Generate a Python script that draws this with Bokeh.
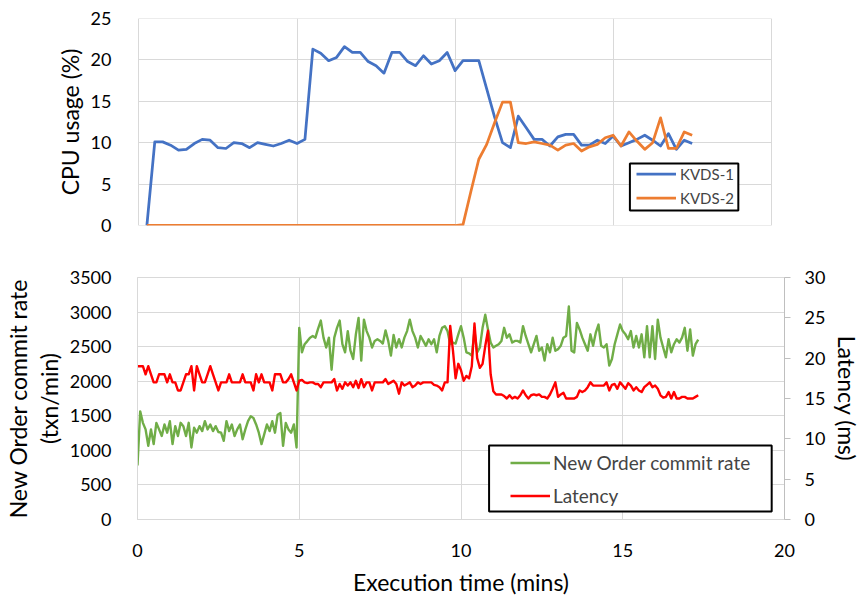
from bokeh.plotting import figure
from bokeh.models import (Range1d, LinearAxis, Legend, LegendItem, FixedTicker,
                          BoxAnnotation, ColumnDataSource)
from bokeh.layouts import column
from bokeh.embed import file_html
from bokeh.resources import INLINE

# ---------------- data ----------------
# Top panel: CPU usage (%), sampled every 0.25 min starting at 0.25 min
cpu_step_min = 0.25
kvds1_cpu = [0, 10.1, 10.1, 9.7, 9.1, 9.2, 9.9, 10.4, 10.3, 9.4,
             9.3, 10.0, 9.9, 9.4, 10.0, 9.8, 9.6, 9.9, 10.3, 9.9,
             10.4, 21.3, 20.8, 19.9, 20.3, 21.6, 20.9, 20.9, 19.8, 19.3,
             18.4, 20.9, 20.9, 19.8, 19.3, 20.5, 19.5, 19.9, 20.9, 18.7,
             19.9, 19.9, 19.9, 16.5, 13.1, 10.0, 9.4, 13.2, 11.8, 10.4,
             10.4, 9.6, 10.7, 11.0, 11.0, 9.7, 9.7, 10.3, 9.9, 10.8,
             9.6, 10.0, 10.4, 10.9, 10.3, 9.6, 11.1, 9.2, 10.3, 9.9]
kvds2_cpu = [0] * 40 + [0.1, 4.1, 8.0, 9.8, 12.4, 14.9, 14.9, 10.0, 9.9, 10.1,
                        9.9, 9.7, 9.1, 9.7, 9.9, 9.0, 9.5, 9.8, 10.6, 10.9,
                        9.6, 11.3, 10.2, 9.2, 10.0, 13.0, 9.3, 9.3, 11.3, 10.9]
cpu_series = ["KVDS-1", "KVDS-2"]

# Bottom panel: sampled every 5 s starting at 0 min
rate_step_min = 5 / 60
commit_rate = [782, 1564, 1398, 1303, 1066, 1303, 1090, 1398, 1303, 1208,
               1374, 1256, 1422, 1090, 1350, 1208, 1398, 1350, 1208, 1398,
               1042, 1327, 1256, 1350, 1279, 1422, 1303, 1374, 1279, 1350,
               1265, 1256, 1137, 1422, 1279, 1374, 1208, 1303, 1374, 1161,
               1303, 1422, 1493, 1469, 1374, 1256, 1090, 1232, 1374, 1279,
               1422, 1256, 1516, 1540, 1066, 1398, 1303, 1256, 1374, 1042,
               2772, 2417, 2535, 2580, 2630, 2654, 2630, 2760, 2877, 2630,
               2488, 2630, 2166, 2630, 2772, 2877, 2535, 2417, 2725, 2441,
               2322, 2678, 2915, 2298, 2891, 2725, 2630, 2488, 2583, 2607,
               2583, 2545, 2735, 2583, 2370, 2668, 2488, 2607, 2488, 2630,
               2725, 2891, 2725, 2630, 2488, 2654, 2583, 2512, 2607, 2535,
               2607, 2417, 2654, 2772, 2796, 2725, 2535, 2559, 2545, 2678,
               2796, 2630, 2417, 2403, 2370, 2725, 2417, 2488, 2772, 2962,
               2749, 2559, 2488, 2512, 2535, 2583, 2772, 2630, 2678, 2559,
               2583, 2583, 2559, 2796, 2654, 2535, 2417, 2535, 2654, 2441,
               2488, 2298, 2535, 2417, 2630, 2441, 2464, 2512, 2630, 2654,
               3080, 2441, 2417, 2844, 2749, 2630, 2535, 2441, 2678, 2512,
               2701, 2820, 2512, 2488, 2535, 2227, 2322, 2535, 2678, 2820,
               2725, 2678, 2607, 2725, 2488, 2654, 2488, 2678, 2346, 2796,
               2346, 2796, 2322, 2891, 2630, 2488, 2346, 2607, 2417, 2535,
               2607, 2559, 2630, 2772, 2441, 2749, 2370, 2535, 2600]
latency_ms = [19, 19, 19, 18, 19, 18, 17, 17, 18, 18,
              18, 17, 18, 17, 17, 16, 16, 17, 18, 18,
              19, 16, 19, 18, 17, 17, 18, 19, 18, 17,
              16, 17, 17, 17, 18, 17, 17, 17, 17, 18,
              17, 17, 17, 16, 18, 17, 18, 17, 17, 17,
              16, 18, 18, 18,
              17, 17, 17.4, 18, 17, 16, 17.2, 17.3, 17, 16.9,
              17, 17, 16.8, 16.8, 16.4, 17, 17, 17, 17, 17.4,
              16, 16.8, 16.2, 17, 16.6, 17, 16.4, 17.2, 16.3, 17.4,
              16.4, 17, 17, 16, 17, 17, 17, 17, 17.4, 16.8,
              17, 17.2, 16.8, 15.6, 17, 16.6, 16.8, 17, 16.4, 16.6,
              17, 16.8, 17,
              17, 17, 17, 16.7, 16.6, 16.4, 16.0, 17, 17, 24,
              21, 17.5, 19.3, 18.5, 17.2, 17.8, 17.5, 19, 24.3, 20,
              18.8, 19.3, 21.5, 23.4, 18, 15.9, 15.5, 15.5, 15.5, 15.3,
              15, 15.4, 15, 15.2, 15, 15.4, 16, 15.4, 15, 15.4,
              15.5, 15.4, 15.5, 15.2, 15.2, 15, 15.5, 16.2, 17, 15.2,
              15.5, 15.7, 15, 15,
              15, 15, 15.2, 16, 15.8, 16, 16.4, 17, 16.6, 16.6,
              16.6, 16.6, 16.6, 17, 16, 16.7, 16.8, 16.2, 17, 16.6,
              16.2, 16.9, 16.6, 16, 16.4, 16, 15.8, 16.4, 16.7, 17,
              16.4, 16.6, 16.2, 15.4, 15.1, 15.2, 15.8, 15, 15.8, 15,
              15, 15.2, 15.2, 15, 15, 15, 15.2, 15.4]
bottom_series = ["New Order commit rate", "Latency"]

x_ticks = [0, 5, 10, 15, 20]
cpu_ticks = [0, 5, 10, 15, 20, 25]
rate_ticks = [0, 500, 1000, 1500, 2000, 2500, 3000, 3500]
lat_ticks = [0, 5, 10, 15, 20, 25, 30]

# ---------------- style ----------------
FONT = "Lato"
GRID = "#D9D9D9"
BLUE, ORANGE, GREEN, RED = "#4472C4", "#ED7D31", "#70AD47", "#FF0000"
TICK_PX, TITLE_PX = 18, 23

cpu_t = [cpu_step_min * (i + 1) for i in range(len(kvds1_cpu))]
rate_t = [rate_step_min * i for i in range(len(commit_rate))]
lat_t = [rate_step_min * i for i in range(len(latency_ms))]


def style_axis(ax, standoff, title_standoff):
    ax.major_label_text_font = FONT
    ax.major_label_text_font_size = f"{TICK_PX}px"
    ax.major_label_text_color = "#000000"
    ax.axis_label_text_font = FONT
    ax.axis_label_text_font_size = f"{TITLE_PX}px"
    ax.axis_label_text_font_style = "normal"
    ax.axis_label_text_color = "#000000"
    ax.major_tick_line_color = None
    ax.minor_tick_line_color = None
    ax.major_label_standoff = standoff
    ax.axis_label_standoff = title_standoff
    ax.axis_line_color = GRID


def legend_frame(left, right, bottom, top):
    return BoxAnnotation(left=left, right=right, bottom=bottom, top=top,
                         fill_color="white", fill_alpha=1.0,
                         line_color="black", line_alpha=1.0, line_width=2,
                         line_dash="solid")


# ---------------- top figure ----------------
# frame spans the same pixels as the lower chart; the x range is widened so the
# 0..20 grid of this chart lands where it is in the reference
p1 = figure(width=864, height=250,
            x_range=Range1d(-0.0467, 20.4206), y_range=Range1d(-0.0001, 25.0001),
            output_backend="svg", toolbar_location=None,
            min_border_left=132, min_border_right=75, min_border_top=18, min_border_bottom=25)
p1.outline_line_color = None
p1.xaxis.visible = False
p1.xgrid.ticker = FixedTicker(ticks=x_ticks)
p1.yaxis.ticker = FixedTicker(ticks=cpu_ticks)
p1.ygrid.ticker = FixedTicker(ticks=cpu_ticks)
p1.xgrid.grid_line_color = GRID
p1.ygrid.grid_line_color = GRID
p1.yaxis.axis_label = "CPU usage (%)"
style_axis(p1.yaxis[0], 20, 4)
p1.yaxis[0].axis_line_color = None
try:
    p1.ygrid.cross_bounds = (0, 20)
except Exception:
    p1.add_layout(BoxAnnotation(left=20.012, fill_color="white", fill_alpha=1.0,
                                line_color=None, level="underlay"))

src1 = ColumnDataSource(dict(t=cpu_t, a=kvds1_cpu, b=kvds2_cpu))
r_blue = p1.line("t", "a", source=src1, line_color=BLUE, line_width=2.75, line_join="round")
r_orange = p1.line("t", "b", source=src1, line_color=ORANGE, line_width=2.75, line_join="round")

p1.add_layout(legend_frame(15.53, 18.96, 1.81, 7.49))
leg1 = Legend(items=[LegendItem(label=cpu_series[0], renderers=[r_blue]),
                     LegendItem(label=cpu_series[1], renderers=[r_orange])],
              location=(499, 17), padding=0, spacing=3,
              glyph_width=40, glyph_height=21, label_height=21, label_standoff=4,
              label_text_font=FONT, label_text_font_size="15px",
              border_line_color=None, background_fill_alpha=0)
p1.add_layout(leg1, "center")

# ---------------- bottom figure ----------------
p2 = figure(width=864, height=348, x_range=Range1d(0, 20), y_range=Range1d(0, 3500),
            output_backend="svg", toolbar_location=None,
            min_border_left=132, min_border_right=75, min_border_top=27, min_border_bottom=76)
p2.outline_line_color = GRID
p2.extra_y_ranges = {"lat": Range1d(0, 30)}
p2.xaxis.ticker = FixedTicker(ticks=x_ticks)
p2.xgrid.ticker = FixedTicker(ticks=x_ticks)
p2.yaxis.ticker = FixedTicker(ticks=rate_ticks)
p2.ygrid.ticker = FixedTicker(ticks=rate_ticks)
p2.xgrid.grid_line_color = GRID
p2.ygrid.grid_line_color = GRID
p2.xaxis.axis_label = "Execution time (mins)"
p2.yaxis.axis_label = "New Order commit rate\n(txn/min)"
style_axis(p2.xaxis[0], 18, 8)
style_axis(p2.yaxis[0], 20, 4)
p2.yaxis[0].axis_label_text_line_height = 1.1

lat_axis = LinearAxis(y_range_name="lat", ticker=FixedTicker(ticks=lat_ticks),
                      axis_label="Latency (ms)")
style_axis(lat_axis, 14, 5)
lat_axis.axis_line_color = "#BFBFBF"
lat_axis.major_tick_line_color = "#BFBFBF"
lat_axis.major_tick_out = 6
lat_axis.major_tick_in = 0
p2.add_layout(lat_axis, "right")

src_rate = ColumnDataSource(dict(t=rate_t, v=commit_rate))
src_lat = ColumnDataSource(dict(t=lat_t, v=latency_ms))
r_green = p2.line("t", "v", source=src_rate, line_color=GREEN, line_width=2.4, line_join="round")
r_red = p2.line("t", "v", source=src_lat, line_color=RED, line_width=2.4, line_join="round",
                y_range_name="lat")

p2.add_layout(legend_frame(10.868, 19.604, 114.3, 1071.4))
leg2 = Legend(items=[LegendItem(label=bottom_series[0], renderers=[r_green]),
                     LegendItem(label=bottom_series[1], renderers=[r_red])],
              location=(373, 12), padding=0, spacing=10,
              glyph_width=40, glyph_height=23, label_height=23, label_standoff=3,
              label_text_font=FONT, label_text_font_size="19px",
              border_line_color=None, background_fill_alpha=0)
p2.add_layout(leg2, "center")

layout = column(p1, p2)
open("out.html", "w").write(file_html(layout, INLINE))
